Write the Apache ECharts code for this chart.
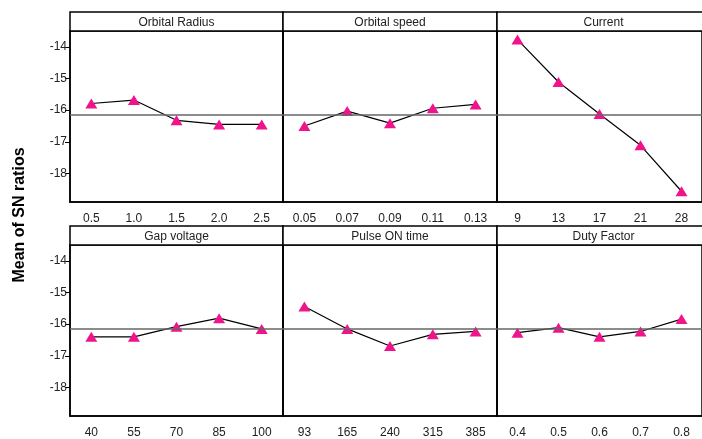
<!DOCTYPE html>
<html>
<head>
    <meta charset="utf-8">
    <style>
        body{
            margin:0;
            padding:0;
            background:#fff;
        }
        #chart{
            width: 702px;
            height: 439px;
        }
    </style>
</head>
<body>
    <div id="chart"></div>
    <script src="https://cdn.jsdelivr.net/npm/echarts@6/dist/echarts.min.js"></script>
    <script>
        // levels and mean S/N ratios
        var radiusLevels = ["0.5", "1.0", "1.5", "2.0", "2.5"];
        var radiusSN = [-15.79, -15.68, -16.32, -16.45, -16.45];

        var speedLevels = ["0.05", "0.07", "0.09", "0.11", "0.13"];
        var speedSN = [-16.50, -16.03, -16.41, -15.94, -15.82];

        var currentLevels = ["9", "13", "17", "21", "28"];
        var currentSN = [-13.77, -15.11, -16.12, -17.11, -18.56];

        var gapLevels = ["40", "55", "70", "85", "100"];
        var gapSN = [-16.40, -16.40, -16.08, -15.81, -16.15];

        var pulseLevels = ["93", "165", "240", "315", "385"];
        var pulseSN = [-15.44, -16.15, -16.69, -16.32, -16.23];

        var dutyLevels = ["0.4", "0.5", "0.6", "0.7", "0.8"];
        var dutySN = [-16.27, -16.11, -16.40, -16.23, -15.84];

        var factorNames = ["Orbital Radius", "Orbital speed", "Current", "Gap voltage", "Pulse ON time", "Duty Factor"];
        var grandMean = -16.16;
        var yTicks = [-18, -17, -16, -15, -14];
    </script>
    <script>
        var chart = echarts.init(document.getElementById("chart"));

        var panels = [
            [radiusLevels, radiusSN],
            [speedLevels, speedSN],
            [currentLevels, currentSN],
            [gapLevels, gapSN],
            [pulseLevels, pulseSN],
            [dutyLevels, dutySN]
        ];

        var colLeft = [70, 283, 497];
        var colWidth = [213, 214, 213];
        var rowTop = [12, 226];
        var headH = 19;
        var plotH = 171;
        var font = "Liberation Sans, Arial, sans-serif";

        var option = {
            animation: false,
            grid: [],
            xAxis: [],
            yAxis: [],
            series: [],
            graphic: []
        };

        for (var i = 0; i < panels.length; i++) {
            var col = i % 3, row = Math.floor(i / 3);
            var px = colLeft[col], py = rowTop[row];

            option.grid.push({
                left: px,
                top: py + headH,
                width: colWidth[col],
                height: plotH,
                show: true,
                borderColor: "#000",
                borderWidth: 1.5
            });
            option.xAxis.push({
                type: "category",
                gridIndex: i,
                data: panels[i][0],
                boundaryGap: true,
                axisLine: { lineStyle: { color: "#000", width: 1.5 } },
                axisTick: { alignWithLabel: true, length: 5, lineStyle: { color: "#000" } },
                axisLabel: { color: "#222", fontSize: 12, fontFamily: font, margin: 11 },
                splitLine: { show: false }
            });
            option.yAxis.push({
                type: "value",
                gridIndex: i,
                min: -18.9,
                max: -13.5,
                axisLine: { show: true, lineStyle: { color: "#000", width: 1.5 } },
                axisTick: { show: col === 0, length: 5, customValues: yTicks, lineStyle: { color: "#000" } },
                axisLabel: { show: col === 0, customValues: yTicks, color: "#222", fontSize: 12, fontFamily: font, margin: 3 },
                splitLine: { show: false }
            });
            option.series.push({
                type: "line",
                xAxisIndex: i,
                yAxisIndex: i,
                data: panels[i][1],
                symbol: "triangle",
                symbolSize: [12, 10],
                itemStyle: { color: "#F0148C" },
                lineStyle: { color: "#000", width: 1.2 },
                z: 3,
                markLine: {
                    silent: true,
                    symbol: "none",
                    label: { show: false },
                    lineStyle: { color: "#666", width: 1.5, type: "solid" },
                    data: [{ yAxis: grandMean }]
                }
            });
            // header strip with factor name
            option.graphic.push({
                type: "rect",
                shape: { x: px, y: py, width: colWidth[col], height: headH },
                style: { fill: "#fff", stroke: "#000", lineWidth: 1.5 },
                z: 10
            });
            option.graphic.push({
                type: "text",
                x: px + colWidth[col] / 2,
                y: py + headH / 2 + 1,
                style: {
                    text: factorNames[i],
                    textAlign: "center",
                    textVerticalAlign: "middle",
                    font: "12px " + font,
                    fill: "#222"
                },
                z: 11
            });
        }

        option.graphic.push({
            type: "text",
            x: 20,
            y: 215,
            rotation: Math.PI / 2,
            style: {
                text: "Mean of SN ratios",
                textAlign: "center",
                textVerticalAlign: "middle",
                font: "bold 16px " + font,
                fill: "#000"
            }
        });

        chart.setOption(option);
    </script>
</body>
</html>
